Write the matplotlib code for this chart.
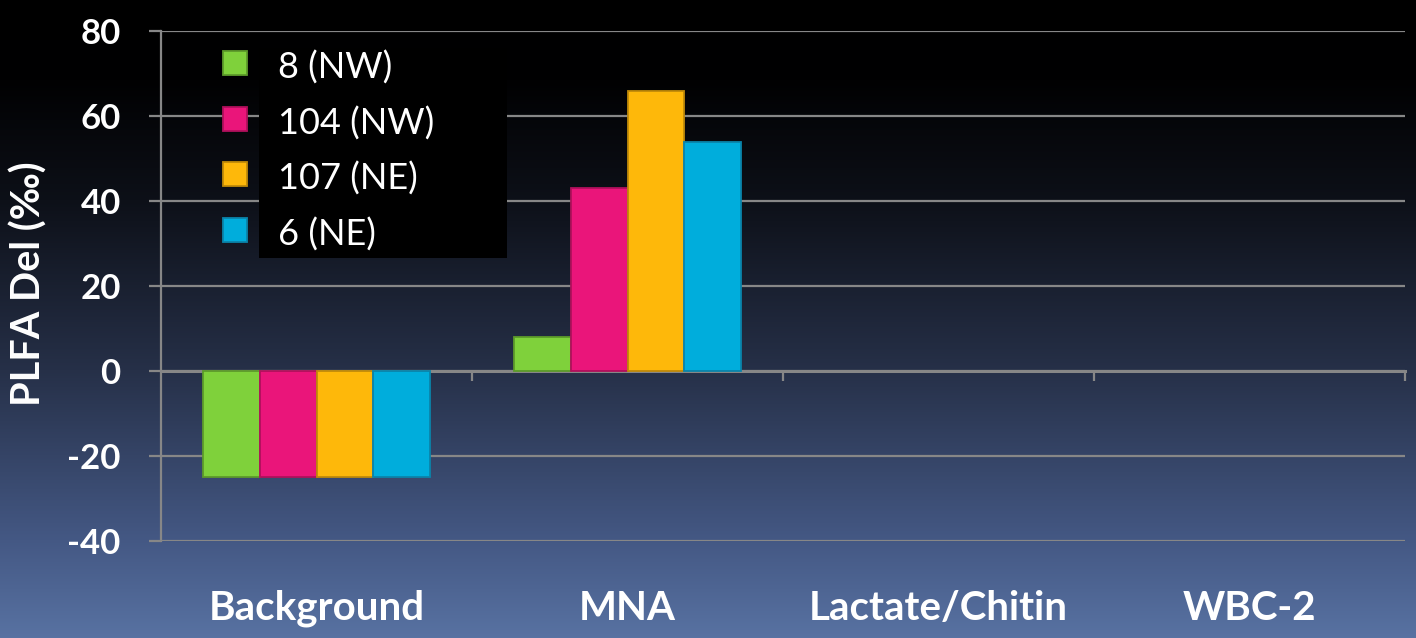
import numpy as np
import matplotlib
matplotlib.use("Agg")
import matplotlib.pyplot as plt
from matplotlib.patches import Rectangle

# ---- data ----
categories = ["Background", "MNA", "Lactate/Chitin", "WBC-2"]
series_names = ["8 (NW)", "104 (NW)", "107 (NE)", "6 (NE)"]
well_8 = [-25, 8, np.nan, np.nan]
well_104 = [-25, 43, np.nan, np.nan]
well_107 = [-25, 66, np.nan, np.nan]
well_6 = [-25, 54, np.nan, np.nan]
y_ticks = [-40, -20, 0, 20, 40, 60, 80]

series_values = [well_8, well_104, well_107, well_6]
fill_colors = ["#7fd13b", "#ea157a", "#feb80a", "#00addc"]
edge_colors = ["#5c9a2a", "#b0105c", "#c08a08", "#0a84aa"]

plt.rcParams["font.family"] = ["Lato", "DejaVu Sans"]

W, H = 1416, 638
fig = plt.figure(figsize=(W / 100, H / 100), dpi=100)

# vertical gradient backdrop: black at the top fading to slate blue
bg = fig.add_axes([0, 0, 1, 1], zorder=-10)
stops_y = np.array([0, 80, 200, 370, 540, 638]) / H
stops_c = np.array([
    [0, 0, 0],
    [1, 1, 2],
    [13, 16, 24],
    [38, 48, 72],
    [68, 88, 132],
    [88, 114, 162],
]) / 255.0
yy = np.linspace(0, 1, H)
grad = np.stack([np.interp(yy, stops_y, stops_c[:, k]) for k in range(3)], axis=-1)
bg.imshow(grad[:, None, :], aspect="auto", extent=[0, 1, 1, 0])
bg.set_axis_off()

left, right = 161 / W, 1405 / W
bottom, top = 1 - 541 / H, 1 - 31 / H
ax = fig.add_axes([left, bottom, right - left, top - bottom])
ax.set_facecolor("none")

grid_c = "#878787"
n_series = len(series_values)
bar_w = 0.183
x = np.arange(len(categories))
for i, (vals, fc, ec) in enumerate(zip(series_values, fill_colors, edge_colors)):
    offs = (i - (n_series - 1) / 2) * bar_w
    ax.bar(x + offs, vals, width=bar_w, color=fc, edgecolor=ec,
           linewidth=1.3, zorder=3)

ax.set_xlim(-0.5, len(categories) - 0.5)
ax.set_ylim(min(y_ticks), max(y_ticks))
ax.set_yticks(y_ticks)
ax.set_yticklabels([str(v) for v in y_ticks])
ax.yaxis.grid(True, color=grid_c, linewidth=1.6, zorder=0)
ax.set_axisbelow(True)

for s in ["top", "right", "bottom"]:
    ax.spines[s].set_visible(False)
ax.spines["left"].set_color(grid_c)
ax.spines["left"].set_linewidth(1.6)

ax.tick_params(axis="y", colors=grid_c, length=9, width=1.6, pad=20,
               labelcolor="white", labelsize=25)
for lbl in ax.get_yticklabels():
    lbl.set_fontweight("bold")

ax.set_xticks(x)
ax.set_xticklabels(categories, fontsize=29, fontweight="bold", color="white")
ax.tick_params(axis="x", length=0, pad=35)

# category axis at zero with boundary ticks
sec = ax.secondary_xaxis(abs(min(y_ticks)) / (max(y_ticks) - min(y_ticks)))
sec.set_xticks(np.arange(len(categories)) + 0.5)
sec.set_xticklabels([])
sec.tick_params(axis="x", direction="out", length=7.5, width=1.6, colors=grid_c)
sec.spines["bottom"].set_color(grid_c)
sec.spines["bottom"].set_linewidth(2.2)

fig.text(29 / W, 1 - 284 / H, "PLFA Del (‰)", color="white", fontsize=28.5,
         fontweight="bold", rotation=90, ha="center", va="center")

# legend block
ft = fig.transFigure
ax.add_patch(Rectangle((259 / W, 1 - 258 / H), 248 / W, 210 / H,
                       transform=ft, facecolor="black", edgecolor="none",
                       zorder=6, clip_on=False))
entry_y = [63, 119, 174, 230]
for name, fc, ec, yc in zip(series_names, fill_colors, edge_colors, entry_y):
    ax.add_patch(Rectangle((223 / W, 1 - (yc + 12) / H), 24 / W, 24 / H,
                           transform=ft, facecolor=fc, edgecolor=ec,
                           linewidth=1.3, zorder=7, clip_on=False))
    fig.text(278 / W, 1 - (yc + 5) / H, name, color="white", fontsize=26,
             ha="left", va="center", zorder=8)

fig.savefig("out.png", dpi=100)
